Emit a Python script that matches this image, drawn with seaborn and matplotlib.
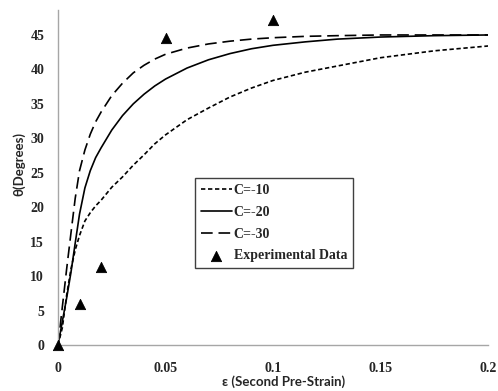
import pandas as pd
import seaborn as sns
import matplotlib.pyplot as plt

# strain values
eps = [0, 0.002, 0.004, 0.006, 0.008, 0.01, 0.0125, 0.015, 0.0175, 0.02,
       0.025, 0.03, 0.035, 0.04, 0.045, 0.05, 0.06, 0.07, 0.08, 0.09,
       0.1, 0.115, 0.13, 0.15, 0.175, 0.2]

# model curves
c10 = [0, 2.5, 7.2, 11.0, 13.8, 15.9, 18.0, 19.2, 20.2, 21.0,
       22.9, 24.4, 26.1, 27.6, 29.2, 30.5, 32.7, 34.4, 36.0, 37.3,
       38.4, 39.6, 40.5, 41.7, 42.7, 43.4]
c20 = [0, 3.4, 6.8, 10.5, 14.8, 19.0, 22.8, 25.3, 27.2, 28.6,
       31.2, 33.3, 35.0, 36.4, 37.6, 38.6, 40.2, 41.4, 42.3, 43.0,
       43.5, 44.0, 44.4, 44.7, 44.9, 45.0]
c30 = [0, 5.5, 11.0, 16.2, 21.3, 25.3, 28.3, 30.6, 32.4, 33.8,
       36.2, 38.0, 39.5, 40.6, 41.5, 42.2, 43.1, 43.7, 44.1, 44.4,
       44.6, 44.8, 44.9, 45.0, 45.0, 45.0]

# experimental data
exp_eps = [0, 0.01, 0.02, 0.05, 0.1]
exp_theta = [0, 6.0, 11.3, 44.6, 47.2]

df = pd.DataFrame({"eps": eps, "C=-10": c10, "C=-20": c20, "C=-30": c30})
df_exp = pd.DataFrame({"eps": exp_eps, "theta": exp_theta})

sns.set_style("white")
plt.rcParams['font.family'] = ['Liberation Serif', 'DejaVu Serif']

fig = plt.figure(figsize=(4.98, 3.91), dpi=100)
ax = fig.add_axes([0.1165, 0.1176, 0.8635, 0.8564])

sns.lineplot(data=df, x="eps", y="C=-10", ax=ax, color="black", lw=1.2,
             linestyle=(0, (2.6, 1.6)), label="C=-10")
sns.lineplot(data=df, x="eps", y="C=-20", ax=ax, color="black", lw=1.2,
             linestyle="-", label="C=-20")
sns.lineplot(data=df, x="eps", y="C=-30", ax=ax, color="black", lw=1.2,
             linestyle=(0, (7, 3.5)), label="C=-30")
sns.scatterplot(data=df_exp, x="eps", y="theta", ax=ax, marker="^", s=55,
                color="black", edgecolor="black", label="Experimental Data",
                clip_on=False, zorder=5)

ax.set_xlim(0, 0.2)
ax.set_ylim(0, 48.6)
ax.set_xticks([0, 0.05, 0.1, 0.15, 0.2])
ax.set_xticklabels(["0", "0.05", "0.1", "0.15", "0.2"])
ax.set_yticks(range(0, 50, 5))

for side in ["top", "right"]:
    ax.spines[side].set_visible(False)
for side in ["left", "bottom"]:
    ax.spines[side].set_color("#a6a6a6")
    ax.spines[side].set_linewidth(1.0)
ax.tick_params(axis="both", direction="out", length=4, width=1.0,
               color="#a6a6a6", labelsize=10, pad=6)
ax.tick_params(axis="x", pad=8)
for lbl in ax.get_xticklabels() + ax.get_yticklabels():
    lbl.set_fontweight("bold")

ax.set_xlabel("ε (Second Pre-Strain)", fontsize=9.5, fontweight="bold",
              family=["Lato", "DejaVu Sans"])
ax.set_ylabel("θ(Degrees)", fontsize=9.5, fontweight="bold",
              family=["Lato", "DejaVu Sans"])
ax.xaxis.set_label_coords(0.525, -0.09)
ax.yaxis.set_label_coords(-0.077, 0.54)

leg = ax.legend(loc="upper left", bbox_to_anchor=(0.318, 0.4985),
                frameon=True, fancybox=False, framealpha=1,
                prop={"weight": "bold", "size": 10},
                handlelength=2.2, handletextpad=0.15, labelspacing=0.62,
                borderpad=0.45, borderaxespad=0)
leg.get_frame().set_edgecolor("#404040")
leg.get_frame().set_linewidth(1.0)

plt.savefig("out.png", dpi=100)
